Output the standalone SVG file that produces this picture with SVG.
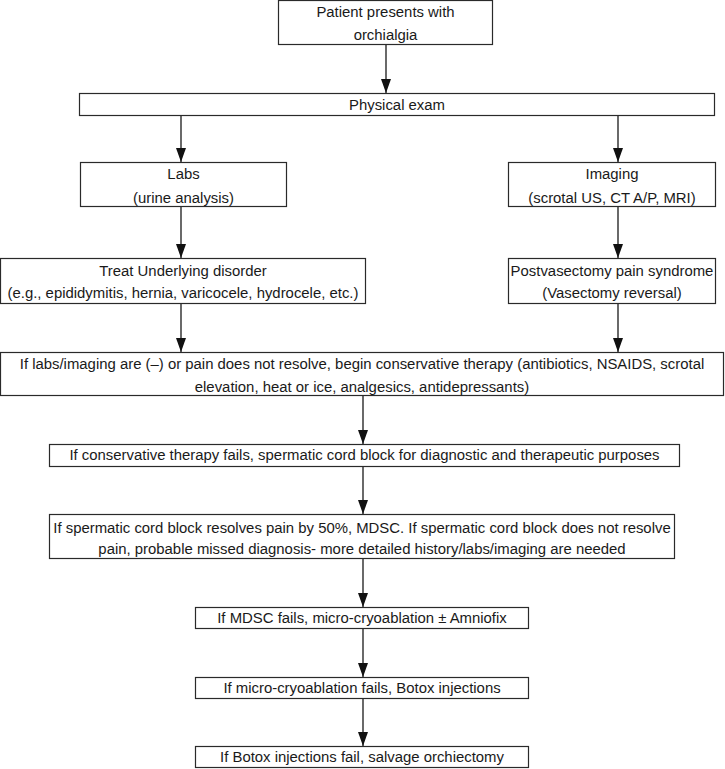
<svg xmlns="http://www.w3.org/2000/svg" width="725" height="769" viewBox="0 0 725 769">
<style>
.box{fill:#fff;stroke:#2a2a2a;stroke-width:1.2}
.t{font-family:"Liberation Sans",Arial,sans-serif;font-size:14.9px;fill:#1a1a1a;text-anchor:middle}
.c{stroke:#1a1a1a;stroke-width:1.3;fill:none;marker-end:url(#ah)}
</style>
<defs>
<marker id="ah" markerUnits="userSpaceOnUse" markerWidth="14" markerHeight="10" viewBox="0 0 14 10" refX="14" refY="5" orient="auto">
<path d="M0,0 L14,5 L0,10 Z" fill="#111"/>
</marker>
</defs>
<rect width="725" height="769" fill="#fff"/>
<g id="connectors">
<line class="c" x1="386" y1="45" x2="386" y2="93"/>
<line class="c" x1="181" y1="116" x2="181" y2="162"/>
<line class="c" x1="618" y1="116" x2="618" y2="162"/>
<line class="c" x1="181" y1="207" x2="181" y2="258"/>
<line class="c" x1="618" y1="207" x2="618" y2="258"/>
<line class="c" x1="181" y1="304" x2="181" y2="352"/>
<line class="c" x1="618" y1="304" x2="618" y2="352"/>
<line class="c" x1="363" y1="396" x2="363" y2="444"/>
<line class="c" x1="363" y1="467" x2="363" y2="514"/>
<line class="c" x1="363" y1="559" x2="363" y2="607"/>
<line class="c" x1="363" y1="629" x2="363" y2="677"/>
<line class="c" x1="363" y1="699" x2="363" y2="746"/>
</g>
<g id="n1"><rect class="box" x="278.5" y="0.5" width="214" height="44"/>
<text class="t" x="385.5" y="17">Patient presents with</text>
<text class="t" x="385.5" y="40">orchialgia</text></g>
<g id="n2"><rect class="box" x="79.5" y="93.5" width="635" height="22"/>
<text class="t" x="397" y="110">Physical exam</text></g>
<g id="n3"><rect class="box" x="80.5" y="162.5" width="206" height="44"/>
<text class="t" x="183.5" y="179">Labs</text>
<text class="t" x="183.5" y="203">(urine analysis)</text></g>
<g id="n4"><rect class="box" x="508.5" y="162.5" width="207" height="44"/>
<text class="t" x="612" y="179">Imaging</text>
<text class="t" x="612" y="203">(scrotal US, CT A/P, MRI)</text></g>
<g id="n5"><rect class="box" x="0.5" y="258.5" width="365" height="45"/>
<text class="t" x="183" y="276">Treat Underlying disorder</text>
<text class="t" x="183" y="298">(e.g., epididymitis, hernia, varicocele, hydrocele, etc.)</text></g>
<g id="n6"><rect class="box" x="508.5" y="258.5" width="207" height="45"/>
<text class="t" x="612" y="276">Postvasectomy pain syndrome</text>
<text class="t" x="612" y="298">(Vasectomy reversal)</text></g>
<g id="n7"><rect class="box" x="0.5" y="352.5" width="723" height="43"/>
<text class="t" x="362" y="369">If labs/imaging are (–) or pain does not resolve, begin conservative therapy (antibiotics, NSAIDS, scrotal</text>
<text class="t" x="362" y="392">elevation, heat or ice, analgesics, antidepressants)</text></g>
<g id="n8"><rect class="box" x="49.5" y="444.5" width="630" height="22"/>
<text class="t" x="364.5" y="460">If conservative therapy fails, spermatic cord block for diagnostic and therapeutic purposes</text></g>
<g id="n9"><rect class="box" x="49.5" y="514.5" width="625" height="44"/>
<text class="t" x="362" y="533">If spermatic cord block resolves pain by 50%, MDSC. If spermatic cord block does not resolve</text>
<text class="t" x="362" y="554">pain, probable missed diagnosis- more detailed history/labs/imaging are needed</text></g>
<g id="n10"><rect class="box" x="195.5" y="607.5" width="333" height="21"/>
<text class="t" x="362" y="623">If MDSC fails, micro-cryoablation ± Amniofix</text></g>
<g id="n11"><rect class="box" x="195.5" y="677.5" width="333" height="21"/>
<text class="t" x="362" y="693">If micro-cryoablation fails, Botox injections</text></g>
<g id="n12"><rect class="box" x="195.5" y="746.5" width="333" height="21"/>
<text class="t" x="362" y="762">If Botox injections fail, salvage orchiectomy</text></g>
</svg>
